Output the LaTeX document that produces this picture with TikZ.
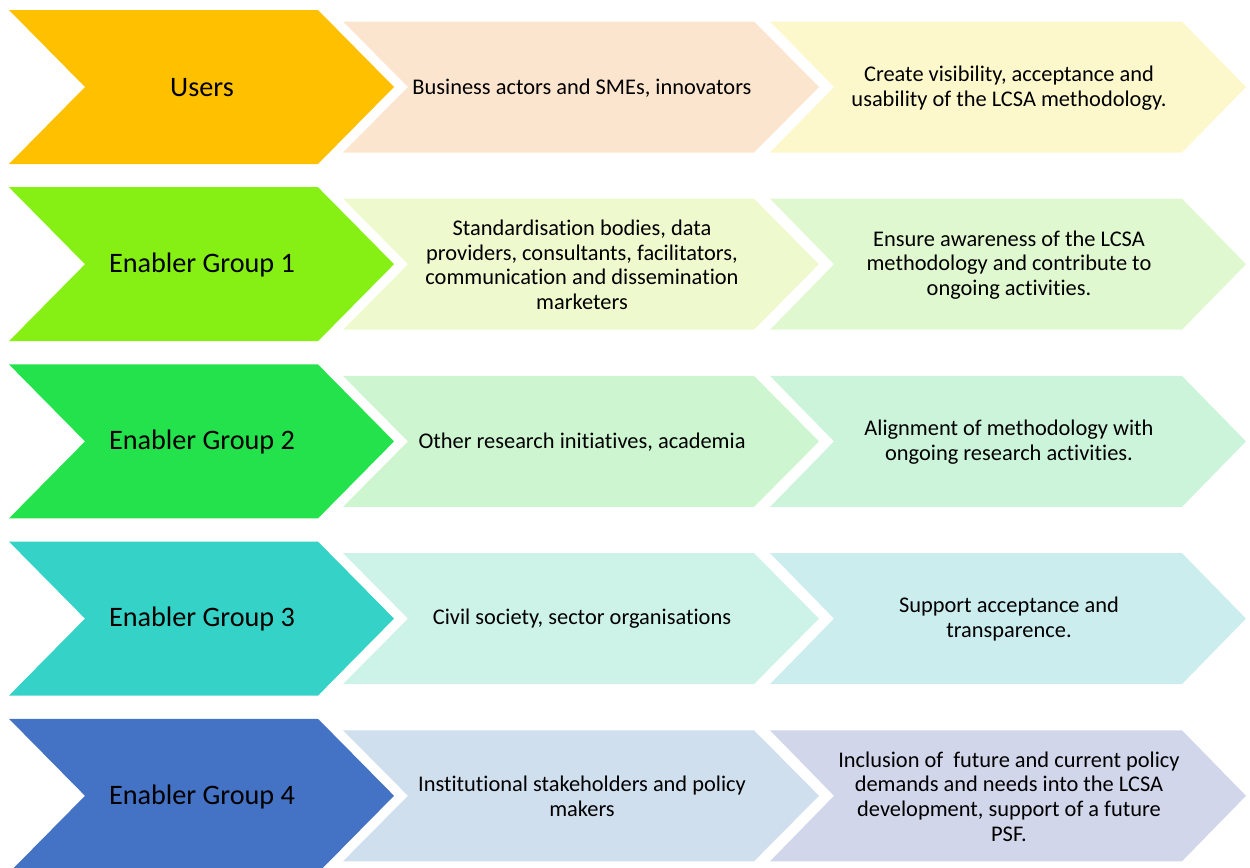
\documentclass[tikz,border=0pt]{standalone}
\usepackage{fontspec}
\setmainfont[Ligatures=NoCommon]{Carlito}
\usepackage{tikz}
\usepackage{xcolor}
\usetikzlibrary{positioning}
\definecolor{amber}{HTML}{FFC000}
\definecolor{peach}{HTML}{FCE5CF}
\definecolor{cream}{HTML}{FCF8CB}
\definecolor{lime}{HTML}{86EF13}
\definecolor{limemist}{HTML}{EEF9CE}
\definecolor{limepale}{HTML}{DFF8CF}
\definecolor{emerald}{HTML}{23E24C}
\definecolor{mint}{HTML}{CCF5D0}
\definecolor{mintpale}{HTML}{CCF4DA}
\definecolor{tealgreen}{HTML}{35D3C7}
\definecolor{teallight}{HTML}{CDF2E7}
\definecolor{tealpale}{HTML}{CBEDEE}
\definecolor{royalblue}{HTML}{4472C4}
\definecolor{skyblue}{HTML}{CFDFEE}
\definecolor{lavender}{HTML}{D2D6EB}

% chevron: left x, centre y, width to corner, half height, point depth, colour
\newcommand{\chevron}[6]{%
  \fill[#6] (#1,#2-#4) -- ++(#3,0) -- ++(#5,#4) -- ++(-#5,#4)
    -- ++(-#3,0) -- ++(#5,-#4) -- cycle;}

\begin{document}
\begin{tikzpicture}[x=0.5pt,y=-0.5pt,
    group/.style={font=\fontsize{14.1}{16}\selectfont},
    info/.style={align=center,font=\fontsize{11.2}{12.3}\selectfont}]
    \useasboundingbox (0,0) rectangle (1250,868);
    \clip (0,0) rectangle (1250,868);

    % Chevrons, one row per group
    \foreach \y/\cA/\cB/\cC in {87/amber/peach/cream,
        264.2/lime/limemist/limepale,
        441.4/emerald/mint/mintpale,
        618.6/tealgreen/teallight/tealpale,
        795.8/royalblue/skyblue/lavender}{
        \chevron{9}{\y}{309}{77}{76}{\cA}
        \chevron{343}{\y}{411}{65.5}{65}{\cB}
        \chevron{770}{\y}{412}{65.5}{64}{\cC}
    }

    % Users
    \node[group] (users) at (202,87.5) {Users};
    \node[info] (usersWho) at (582,88) {Business actors and SMEs, innovators};
    \node[info] (usersAim) at (1009,88) {Create visibility, acceptance and\\usability of the LCSA methodology.};

    % Enabler Group 1
    \node[group] (grp1) at (202,265) {Enabler Group 1};
    \node[info] (grp1Who) at (582,265) {Standardisation bodies, data\\providers, consultants, facilitators,\\communication and dissemination\\marketers};
    \node[info] (grp1Aim) at (1009,265) {Ensure awareness of the LCSA\\methodology and contribute to\\ongoing activities.};

    % Enabler Group 2
    \node[group] (grp2) at (202,442) {Enabler Group 2};
    \node[info] (grp2Who) at (582,442) {Other research initiatives, academia};
    \node[info] (grp2Aim) at (1009,442) {Alignment of methodology with\\ongoing research activities.};

    % Enabler Group 3
    \node[group] (grp3) at (202,619) {Enabler Group 3};
    \node[info] (grp3Who) at (582,619) {Civil society, sector organisations};
    \node[info] (grp3Aim) at (1009,619) {Support acceptance and\\transparence.};

    % Enabler Group 4
    \node[group] (grp4) at (202,796.5) {Enabler Group 4};
    \node[info] (grp4Who) at (582,796.5) {Institutional stakeholders and policy\\makers};
    \node[info] (grp4Aim) at (1009,796.5) {Inclusion of \ future and current policy\\demands and needs into the LCSA\\development, support of a future\\PSF.};
\end{tikzpicture}
\end{document}
